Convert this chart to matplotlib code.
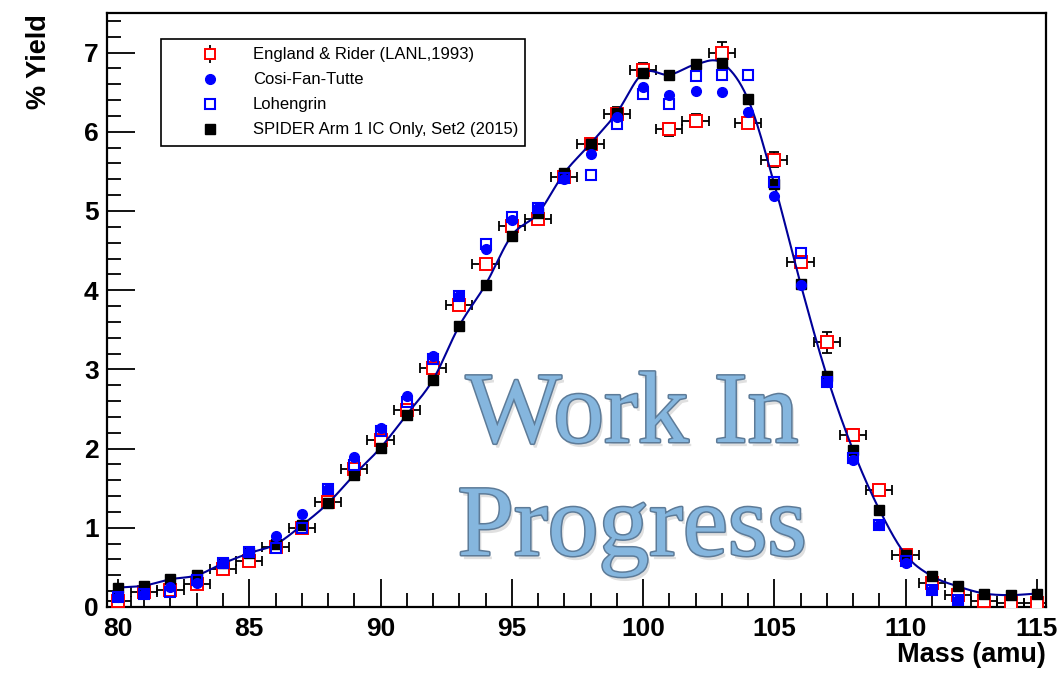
#!/usr/bin/env python3
"""Mass yield comparison: England & Rider, Cosi-Fan-Tutte, Lohengrin, SPIDER."""

import matplotlib
matplotlib.use("Agg")
import matplotlib.pyplot as plt
import matplotlib.patheffects as pe
from matplotlib.lines import Line2D
from matplotlib.legend_handler import HandlerTuple
import numpy as np


MASS = list(range(80, 116))

# England & Rider (LANL, 1993)
ER_YIELD = [0.08, 0.19, 0.21, 0.29, 0.48, 0.58, 0.76, 1.00, 1.33, 1.74,
            2.11, 2.49, 3.02, 3.81, 4.33, 4.81, 4.90, 5.43, 5.85, 6.23,
            6.78, 6.03, 6.14, 7.00, 6.11, 5.65, 4.36, 3.34, 2.17, 1.48,
            0.66, 0.30, 0.15, 0.07, 0.05, 0.05]
ER_ERR = [0.01, 0.01, 0.01, 0.02, 0.02, 0.02, 0.03, 0.03, 0.04, 0.04,
          0.05, 0.05, 0.06, 0.06, 0.06, 0.07, 0.07, 0.07, 0.07, 0.08,
          0.09, 0.08, 0.08, 0.14, 0.06, 0.10, 0.07, 0.13, 0.08, 0.05,
          0.03, 0.02, 0.01, 0.01, 0.01, 0.01]

# Cosi-Fan-Tutte (80..112)
CFT_MASS = list(range(80, 113))
CFT_YIELD = [0.13, 0.16, 0.25, 0.30, 0.56, 0.70, 0.89, 1.17, 1.49, 1.90,
             2.26, 2.67, 3.17, 3.93, 4.52, 4.89, 5.04, 5.40, 5.72, 6.19,
             6.57, 6.46, 6.52, 6.50, 6.25, 5.19, 4.07, 2.84, 1.86, 1.03,
             0.56, 0.21, 0.09]

# Lohengrin (80..112)
LOH_MASS = list(range(80, 113))
LOH_YIELD = [0.13, 0.16, 0.19, 0.34, 0.56, 0.70, 0.75, 1.00, 1.49, 1.79,
             2.22, 2.59, 3.13, 3.93, 4.58, 4.92, 5.04, 5.42, 5.46, 6.10,
             6.48, 6.35, 6.71, 6.72, 6.72, 5.37, 4.47, 2.84, 1.88, 1.03,
             0.58, 0.21, 0.09]

# SPIDER Arm 1 IC only, Set2 (2015)
SP_YIELD = [0.245, 0.27, 0.35, 0.40, 0.55, 0.68, 0.79, 1.03, 1.31, 1.67,
            2.01, 2.43, 2.87, 3.55, 4.07, 4.69, 4.97, 5.48, 5.85, 6.24,
            6.74, 6.72, 6.85, 6.87, 6.41, 5.34, 4.08, 2.92, 1.98, 1.23,
            0.66, 0.39, 0.26, 0.17, 0.15, 0.17]

LABELS = ["England & Rider (LANL,1993)", "Cosi-Fan-Tutte", "Lohengrin",
          "SPIDER Arm 1 IC Only, Set2 (2015)"]

SANS = ["Liberation Sans", "DejaVu Sans"]


def smooth_curve(x, y, n=20):
    """Catmull-Rom curve through the points (like ROOT's 'C' draw option)."""
    x = np.asarray(x, float)
    y = np.asarray(y, float)
    xp = np.concatenate([[2 * x[0] - x[1]], x, [2 * x[-1] - x[-2]]])
    yp = np.concatenate([[2 * y[0] - y[1]], y, [2 * y[-1] - y[-2]]])
    t = np.linspace(0, 1, n, endpoint=False)
    xs, ys = [], []
    for i in range(1, len(xp) - 2):
        for arr, out in ((xp, xs), (yp, ys)):
            p0, p1, p2, p3 = arr[i - 1:i + 3]
            out.append(0.5 * (2 * p1 + (-p0 + p2) * t
                              + (2 * p0 - 5 * p1 + 4 * p2 - p3) * t ** 2
                              + (-p0 + 3 * p1 - 3 * p2 + p3) * t ** 3))
    xs.append([x[-1]])
    ys.append([y[-1]])
    return np.concatenate(xs), np.concatenate(ys)


fig = plt.figure(figsize=(10.57, 6.73), dpi=100)
ax = fig.add_axes([0.1012, 0.0981, 0.9896 - 0.1012, 0.9807 - 0.0981])

# watermark behind the data
wm_fx = [pe.SimplePatchShadow(offset=(2, -3), shadow_rgbFace="#000000", alpha=0.12),
         pe.withStroke(linewidth=2.2, foreground="#5d7b98")]
for txt, ypix in (("Work In", 442), ("Progress", 555)):
    fig.text(632 / 1057, 1 - ypix / 673, txt, ha="center", va="baseline",
             fontsize=73, family="Liberation Serif", color="#85b6de",
             path_effects=wm_fx, zorder=0)

# England & Rider with errors
ax.errorbar(MASS, ER_YIELD, xerr=0.5, yerr=ER_ERR, fmt="none",
            ecolor="black", elinewidth=1.3, capsize=3.5, capthick=1.3, zorder=2)
ax.plot(MASS, ER_YIELD, "s", ms=8, mfc="white", mec="red", mew=1.4, zorder=3)

# SPIDER with smooth curve
cx, cy = smooth_curve(MASS, SP_YIELD)
ax.plot(cx, cy, "-", color="#000099", lw=1.5, zorder=4)
ax.plot(MASS, SP_YIELD, "s", ms=7, color="black", zorder=5)

ax.plot(CFT_MASS, CFT_YIELD, "o", ms=7, color="#0000ff", mec="#0000ff", zorder=6)
ax.plot(LOH_MASS, LOH_YIELD, "s", ms=7.5, mfc="none", mec="#0000ff", mew=1.5, zorder=7)

ax.set_xlim(79.58, 115.35)
ax.set_ylim(0, 7.5)
ax.set_xticks(range(80, 116, 5))
ax.set_xticks(range(80, 116), minor=True)
ax.set_yticks(range(0, 8))
ax.set_yticks(np.arange(0, 7.51, 0.2), minor=True)
ax.tick_params(which="both", direction="in", width=1.3, top=False, right=False)
ax.tick_params(which="major", length=20)
ax.tick_params(which="minor", length=10)
ax.tick_params(axis="x", pad=7)
ax.tick_params(axis="y", pad=6)
for lab in ax.get_xticklabels() + ax.get_yticklabels():
    lab.set_family(SANS)
    lab.set_fontweight("bold")
    lab.set_fontsize(19)
for s in ax.spines.values():
    s.set_linewidth(1.6)

fig.text(0.9896, 1 - 662 / 673, "Mass (amu)", ha="right", va="baseline",
         family=SANS, fontweight="bold", fontsize=19.5)
fig.text(0.037, 1 - 14 / 673, "% Yield", ha="center", va="top", rotation=90,
         family=SANS, fontweight="bold", fontsize=19.5)

# legend
h_er = (Line2D([], [], ls="none", marker="|", ms=13, mew=1.3, color="black"),
        Line2D([], [], ls="none", marker="s", ms=7, mfc="white", mec="red", mew=1.4))
h_cft = Line2D([], [], ls="none", marker="o", ms=7, color="#0000ff")
h_loh = Line2D([], [], ls="none", marker="s", ms=7, mfc="none", mec="#0000ff", mew=1.5)
h_sp = Line2D([], [], ls="none", marker="s", ms=6.5, color="black")
leg = ax.legend([h_er, h_cft, h_loh, h_sp], LABELS,
                handler_map={tuple: HandlerTuple(ndivide=1)},
                loc="upper left", bbox_to_anchor=(0.0575, 0.956, 0.3875, 0.0),
                mode="expand", borderaxespad=0, fancybox=False, framealpha=1,
                edgecolor="black", prop={"family": "Liberation Sans", "size": 12},
                handlelength=4.9, handletextpad=0.1, borderpad=0.5,
                labelspacing=0.6)
leg.get_frame().set_linewidth(1.2)
leg.set_zorder(10)

fig.savefig("out.png", dpi=100)
